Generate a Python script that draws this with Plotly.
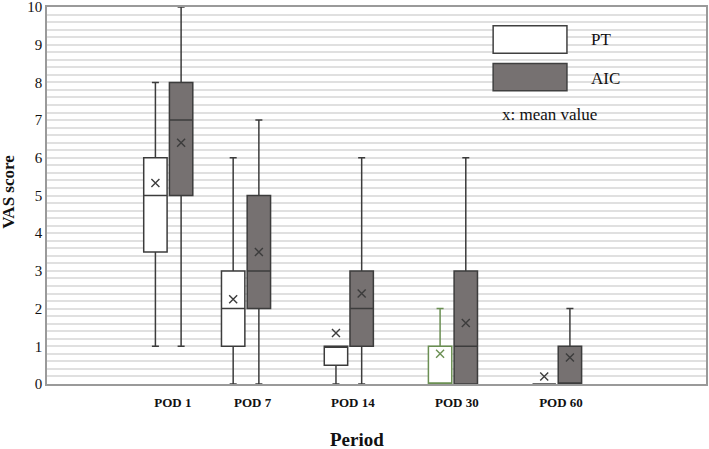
import plotly.graph_objects as go

# ---- data ----
categories = ["POD 1", "POD 7", "POD 14", "POD 30", "POD 60"]

pt_lower = [1, 0, 0, 0, 0]
pt_q1 = [3.5, 1, 0.5, 0, 0]
pt_median = [5, 2, 1, 0, 0]
pt_q3 = [6, 3, 1, 1, 0]
pt_upper = [8, 6, 1, 2, 0]
pt_mean = [5.33, 2.25, 1.35, 0.8, 0.2]

aic_lower = [1, 0, 0, 0, 0]
aic_q1 = [5, 2, 1, 0, 0]
aic_median = [7, 3, 2, 1, 0]
aic_q3 = [8, 5, 3, 3, 1]
aic_upper = [10, 7, 6, 6, 2]
aic_mean = [6.4, 3.5, 2.4, 1.62, 0.7]

y_ticks = list(range(0, 11))

# ---- layout helpers (positions on a 0-10 x scale) ----
group_pos = [1.84, 3.02, 4.58, 6.16, 7.74]
label_pos = [1.91, 3.12, 4.64, 6.22, 7.80]
off = 0.195
bw = 0.355

DARK = "#3c3c3c"
GRAY_FILL = "#767171"
GREEN = "#6a8f52"
FONT = "Liberation Serif"

fig = go.Figure()


def add_box(idx, lower, q1, med, q3, upper, xs, fill, line):
    fig.add_trace(go.Box(
        x=[xs[i] for i in idx],
        lowerfence=[lower[i] for i in idx],
        q1=[q1[i] for i in idx],
        median=[med[i] for i in idx],
        q3=[q3[i] for i in idx],
        upperfence=[upper[i] for i in idx],
        width=bw,
        whiskerwidth=0.3,
        fillcolor=fill,
        line=dict(color=line, width=1.5),
        showlegend=False,
        hoverinfo="skip",
    ))


def add_mean(idx, means, xs, color):
    fig.add_trace(go.Scatter(
        x=[xs[i] for i in idx],
        y=[means[i] for i in idx],
        mode="markers",
        marker=dict(symbol="x-thin", size=8, line=dict(color=color, width=1.4)),
        showlegend=False,
        hoverinfo="skip",
    ))


pt_x = [g - off for g in group_pos]
aic_x = [g + off for g in group_pos]

normal_idx = [0, 1, 2, 4]
green_idx = [3]

add_box(normal_idx, pt_lower, pt_q1, pt_median, pt_q3, pt_upper, pt_x, "white", DARK)
add_box(green_idx, pt_lower, pt_q1, pt_median, pt_q3, pt_upper, pt_x, "white", GREEN)
add_box(list(range(5)), aic_lower, aic_q1, aic_median, aic_q3, aic_upper, aic_x, GRAY_FILL, DARK)

add_mean(normal_idx, pt_mean, pt_x, DARK)
add_mean(green_idx, pt_mean, pt_x, GREEN)
add_mean(list(range(5)), aic_mean, aic_x, DARK)

# ---- legend drawn manually ----
fig.add_shape(type="rect", xref="paper", yref="paper", x0=0.677, x1=0.789, y0=0.877, y1=0.950,
              fillcolor="white", line=dict(color="#404040", width=1.5))
fig.add_shape(type="rect", xref="paper", yref="paper", x0=0.677, x1=0.789, y0=0.778, y1=0.850,
              fillcolor=GRAY_FILL, line=dict(color="#404040", width=1.5))
fig.add_annotation(xref="paper", yref="paper", x=0.8225, y=0.913, text="PT", showarrow=False,
                   xanchor="left", yanchor="middle", font=dict(family=FONT, size=17, color="#111"))
fig.add_annotation(xref="paper", yref="paper", x=0.8225, y=0.810, text="AIC", showarrow=False,
                   xanchor="left", yanchor="middle", font=dict(family=FONT, size=17, color="#111"))
fig.add_annotation(xref="paper", yref="paper", x=0.688, y=0.715, text="x: mean value", showarrow=False,
                   xanchor="left", yanchor="middle", font=dict(family=FONT, size=17, color="#111"))

# axis titles
fig.add_annotation(xref="paper", yref="paper", x=(357 - 47) / 659, y=-0.146, text="<b>Period</b>",
                   showarrow=False, xanchor="center", yanchor="middle",
                   font=dict(family=FONT, size=19, color="#111"))
fig.add_annotation(xref="paper", yref="paper", x=(9 - 47) / 659, y=0.51, text="<b>VAS score</b>",
                   showarrow=False, xanchor="center", yanchor="middle", textangle=-90,
                   font=dict(family=FONT, size=17, color="#111"))

fig.update_layout(
    width=709, height=449,
    margin=dict(l=47, r=3, t=7, b=65, autoexpand=False),
    paper_bgcolor="white", plot_bgcolor="white",
    boxmode="overlay",
    xaxis=dict(
        range=[0, 10], tickmode="array", tickvals=label_pos, ticktext=[f"<b>{c}</b>" for c in categories],
        tickfont=dict(family=FONT, size=13, color="#111"),
        showgrid=False, zeroline=False,
        showline=True, linecolor="#9a9a9a", linewidth=1.5, mirror=True,
        ticks="outside", ticklen=6, tickcolor="rgba(0,0,0,0)",
    ),
    yaxis=dict(
        range=[0, 10], tickmode="array", tickvals=y_ticks,
        tickfont=dict(family=FONT, size=15, color="#111"),
        ticklabeloverflow="allow",
        showgrid=True, gridcolor="#e0e0e0", gridwidth=1.5, zeroline=False,
        minor=dict(dtick=0.2, showgrid=True, gridcolor="#e0e0e0", gridwidth=1.5),
        showline=True, linecolor="#9a9a9a", linewidth=1.5, mirror=True,
        ticks="", ticklen=0,
    ),
)

fig.write_html(
    "out.html",
    config={"displayModeBar": False},
    post_script="document.body.style.margin='0';document.body.style.overflow='hidden';",
)
